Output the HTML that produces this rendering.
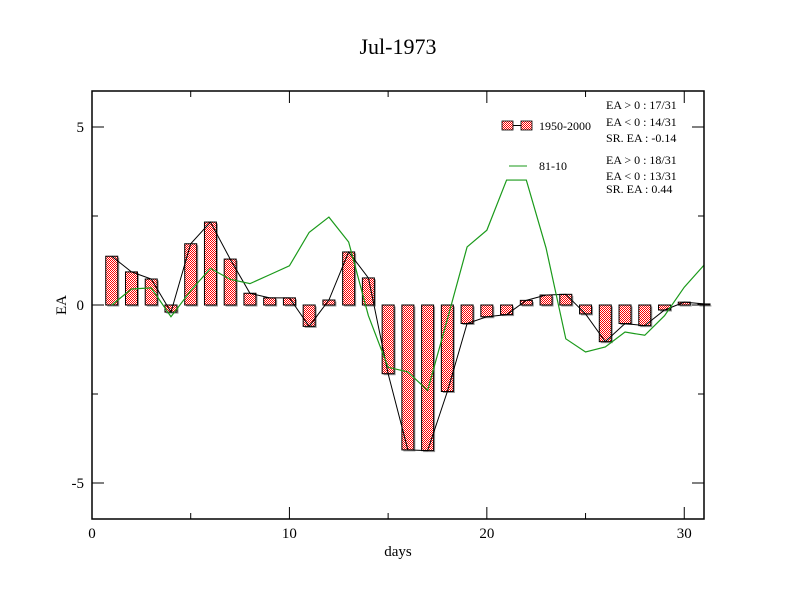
<!DOCTYPE html>
<html><head><meta charset="utf-8"><style>
body{margin:0;background:#fff;}
svg{display:block;font-family:"Liberation Serif",serif;}
</style></head><body>
<svg id="chart" width="792" height="612" xmlns="http://www.w3.org/2000/svg">
<defs>
<pattern id="chk" width="2" height="2" patternUnits="userSpaceOnUse">
<rect width="2" height="2" fill="#fff"/><rect width="1" height="1" fill="#f00"/><rect x="1" y="1" width="1" height="1" fill="#f00"/>
</pattern>
</defs>
<rect width="792" height="612" fill="#fff"/>
<text x="398" y="54" font-size="22" text-anchor="middle">Jul-1973</text>
<g id="bars"></g>
<g id="lines"></g>
<g id="axes"></g>
<rect x="92" y="91" width="612" height="428" fill="none" stroke="#000" stroke-width="1.5"/>
<text x="398" y="556" font-size="15" text-anchor="middle">days</text>
<text transform="translate(66,305) rotate(-90)" font-size="15" text-anchor="middle">EA</text>
<g font-size="12">
<rect x="502" y="121" width="11" height="9" fill="url(#chk)" stroke="#000" stroke-width="0.8"/>
<line x1="513" y1="125.5" x2="521" y2="125.5" stroke="#000"/>
<rect x="521" y="121" width="11" height="9" fill="url(#chk)" stroke="#000" stroke-width="0.8"/>
<text x="539" y="130">1950-2000</text>
<line x1="509" y1="166" x2="527" y2="166" stroke="#1a9a1a"/>
<text x="539" y="170">81-10</text>
<text x="606" y="109">EA &gt; 0 : 17/31</text>
<text x="606" y="126">EA &lt; 0 : 14/31</text>
<text x="606" y="142">SR. EA : -0.14</text>
<text x="606" y="164">EA &gt; 0 : 18/31</text>
<text x="606" y="180">EA &lt; 0 : 13/31</text>
<text x="606" y="193">SR. EA :  0.44</text>
</g>
</svg>
<script>
const days=[1,2,3,4,5,6,7,8,9,10,11,12,13,14,15,16,17,18,19,20,21,22,23,24,25,26,27,28,29,30,31];
const ea1950=[1.37,0.93,0.73,-0.2,1.72,2.33,1.29,0.33,0.2,0.2,-0.6,0.14,1.49,0.76,-1.93,-4.07,-4.09,-2.43,-0.52,-0.33,-0.27,0.13,0.28,0.3,-0.25,-1.03,-0.52,-0.58,-0.14,0.08,0.03];
const ea8110=[0,0.45,0.48,-0.33,0.4,1.03,0.72,0.6,0.85,1.1,2.04,2.47,1.77,-0.3,-1.75,-1.88,-2.4,-0.4,1.63,2.1,3.51,3.51,1.6,-0.95,-1.32,-1.18,-0.76,-0.85,-0.3,0.5,1.12];
const xTicks=[0,10,20,30];
const yTicks=[-5,0,5];
const NS='http://www.w3.org/2000/svg';
const X=v=>92+v*(612/31);
const Y=v=>305-v*35.6;
function mk(tag,attrs,parent){const e=document.createElementNS(NS,tag);for(const k in attrs)e.setAttribute(k,attrs[k]);parent.appendChild(e);return e;}
const bars=document.getElementById('bars'),lines=document.getElementById('lines'),axes=document.getElementById('axes');
ea1950.forEach((v,i)=>{
  const x=X(days[i]),y0=Y(0),y1=Y(v);
  const top=Math.min(y0,y1),h=Math.abs(y1-y0);
  const sh=mk('rect',{x:x-6+1.5,y:top+1.5,width:12,height:h,fill:'#999'},bars);
  
  
  const r=mk('rect',{x:x-6,y:top,width:12,height:h,fill:'url(#chk)',stroke:'#000','stroke-width':1},bars);
  
  
});
const p1=mk('polyline',{points:ea1950.map((v,i)=>X(days[i])+','+Y(v)).join(' '),fill:'none',stroke:'#000','stroke-width':1},lines);


const p2=mk('polyline',{points:ea8110.map((v,i)=>X(days[i])+','+Y(v)).join(' '),fill:'none',stroke:'#1a9a1a','stroke-width':1.2},lines);


xTicks.forEach(t=>{
  const x=X(t);
  mk('line',{x1:x,y1:519,x2:x,y2:507,stroke:'#000'},axes);
  mk('line',{x1:x,y1:91,x2:x,y2:103,stroke:'#000'},axes);
  const xm=X(t+5);
  if(t+5<31){mk('line',{x1:xm,y1:519,x2:xm,y2:513,stroke:'#000'},axes);mk('line',{x1:xm,y1:91,x2:xm,y2:97,stroke:'#000'},axes);}
  const tx=mk('text',{x:x,y:538,'font-size':15,'text-anchor':'middle'},axes);
  tx.textContent=t;
  
  
});
yTicks.forEach(t=>{
  const y=Y(t);
  mk('line',{x1:92,y1:y,x2:104,y2:y,stroke:'#000'},axes);
  mk('line',{x1:704,y1:y,x2:692,y2:y,stroke:'#000'},axes);
  const ty=mk('text',{x:84,y:y+5,'font-size':15,'text-anchor':'end'},axes);
  ty.textContent=t;
  
  
});
[-2.5,2.5].forEach(t=>{const y=Y(t);mk('line',{x1:92,y1:y,x2:98,y2:y,stroke:'#000'},axes);mk('line',{x1:704,y1:y,x2:698,y2:y,stroke:'#000'},axes);});
</script>
</body></html>
